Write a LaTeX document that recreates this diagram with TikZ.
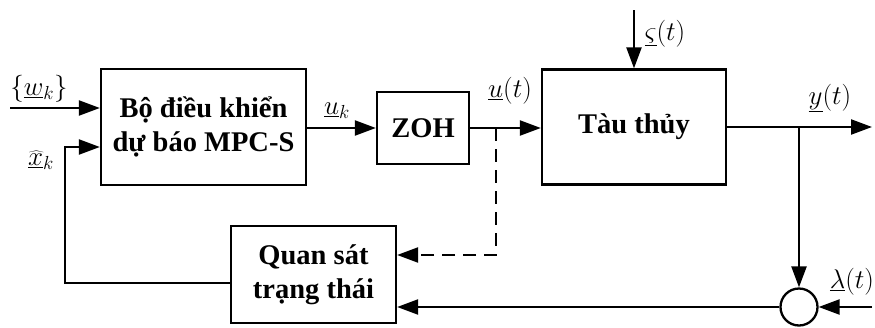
\RequirePackage{fix-cm}
\documentclass[tikz,border=0pt]{standalone}
\usepackage{fontspec}
\setmainfont{Liberation Serif}
\usetikzlibrary{arrows.meta}
\begin{document}
\begin{tikzpicture}[x=1pt,y=-1pt,
  blk/.style={draw,line width=2.3pt,minimum width=#1,inner sep=0pt,font=\fontsize{28.5}{34}\selectfont\bfseries,align=center},
  arr/.style={line width=2.3pt,-{Triangle[length=21pt,width=15pt]}},
  lbl/.style={inner sep=0pt,font=\fontsize{27}{32}\selectfont}]
\useasboundingbox (0,0) rectangle (875,327);
\node[blk=205pt,minimum height=116pt] (mpc) at (203.5,127) {Bộ điều khiển\\dự báo MPC-S};
\node[blk=92pt,minimum height=72pt] (zoh) at (423,128) {ZOH};
\node[blk=184pt,minimum height=115pt] (ship) at (634,127) {Tàu thủy};
\node[blk=165pt,minimum height=97pt] (obs) at (313.5,274.5) {Quan sát\\trạng thái};
\node[draw,circle,line width=2.3pt,minimum size=37pt,inner sep=0pt] (sum) at (799,307) {};
\coordinate (win) at (10,108);
\coordinate (wend) at (mpc.west |- win);
\coordinate (xin) at (mpc.west |- 0,147);
\coordinate (xc1) at (65,147);
\coordinate (xc2) at (65,283);
\coordinate (obsl) at (obs.west |- xc2);
\coordinate (ud) at (496,128);
\coordinate (ud2) at (496,255);
\coordinate (obsd) at (obs.east |- ud2);
\coordinate (dtop) at (634,10);
\coordinate (yend) at (872,127);
\coordinate (yj) at (799,127);
\coordinate (lin) at (872,307);
\coordinate (obss) at (obs.east |- sum);
\draw[arr] (win) -- (wend);
\draw[arr] (obsl) -- (xc2) -- (xc1) -- (xin);
\draw[arr] (mpc.east |- zoh) -- (zoh.west);
\draw[arr] (zoh.east) -- (ship.west |- zoh);
\draw[arr,dash pattern=on 13pt off 8pt] (ud) -- (ud2) -- (obsd);
\draw[arr] (dtop) -- (ship.north);
\draw[arr] (ship.east) -- (yend);
\draw[arr] (yj) -- (sum.north);
\draw[arr] (lin) -- (sum.east);
\draw[arr] (sum.west) -- (obss);
\node[lbl] (lw) at (39,89) {$\{\underline{w}_k\}$};
\node[lbl] (lx) at (41,160) {$\underline{\widehat{x}}_k$};
\node[lbl] (luk) at (337,111) {$\underline{u}_k$};
\node[lbl] (lut) at (510,91) {$\underline{u}(t)$};
\node[lbl] (ls) at (665,34) {$\underline{\varsigma}(t)$};
\node[lbl] (ly) at (830,98) {$\underline{y}(t)$};
\node[lbl] (ll) at (852,282) {$\underline{\lambda}(t)$};
\end{tikzpicture}
\end{document}
